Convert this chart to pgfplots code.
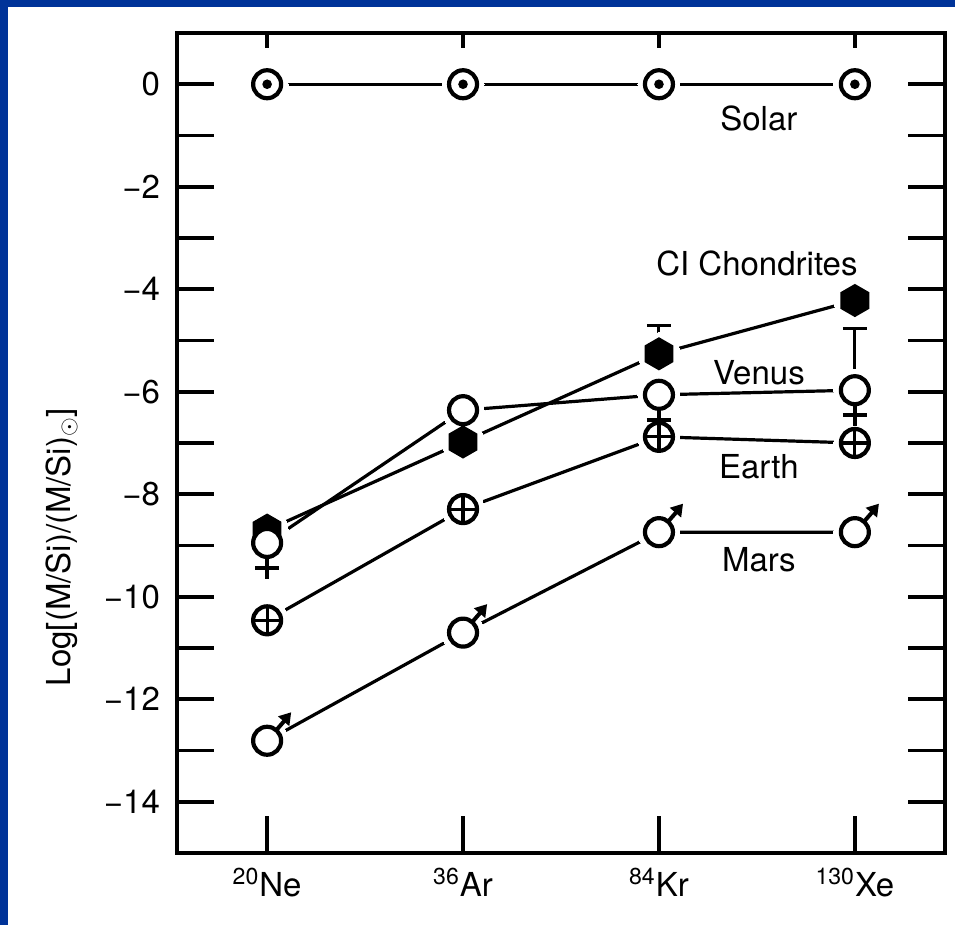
\documentclass[border=0pt]{standalone}
\usepackage{fontspec}
\setmainfont{TeX Gyre Heros}
\usepackage{pgfplots}
\pgfplotsset{compat=1.18}

\definecolor{framebg}{RGB}{0,51,153}

% --- plot marks for the planetary symbols ---
\pgfdeclareplotmark{sun}{%
  \pgfsetlinewidth{2.1pt}\pgfsetstrokecolor{black}\pgfsetfillcolor{white}%
  \pgfpathcircle{\pgfpointorigin}{7pt}\pgfusepath{fill,stroke}%
  \pgfsetfillcolor{black}%
  \pgfpathcircle{\pgfpointorigin}{2.4pt}\pgfusepath{fill}}
\pgfdeclareplotmark{earth}{%
  \pgfsetlinewidth{2.1pt}\pgfsetstrokecolor{black}\pgfsetfillcolor{white}%
  \pgfpathcircle{\pgfpointorigin}{7pt}\pgfusepath{fill,stroke}%
  \pgfsetlinewidth{1.6pt}%
  \pgfpathmoveto{\pgfpoint{-7pt}{0pt}}\pgfpathlineto{\pgfpoint{7pt}{0pt}}%
  \pgfpathmoveto{\pgfpoint{0pt}{-7pt}}\pgfpathlineto{\pgfpoint{0pt}{7pt}}%
  \pgfusepath{stroke}}
\pgfdeclareplotmark{venus}{%
  \pgfsetlinewidth{1.9pt}\pgfsetstrokecolor{black}\pgfsetfillcolor{white}%
  \pgfpathmoveto{\pgfpoint{0pt}{-7pt}}\pgfpathlineto{\pgfpoint{0pt}{-18pt}}%
  \pgfpathmoveto{\pgfpoint{-6pt}{-12.5pt}}\pgfpathlineto{\pgfpoint{6pt}{-12.5pt}}%
  \pgfusepath{stroke}%
  \pgfsetlinewidth{2.1pt}%
  \pgfpathcircle{\pgfpointorigin}{7pt}\pgfusepath{fill,stroke}}
\pgfdeclareplotmark{mars}{%
  \pgfsetlinewidth{2.1pt}\pgfsetstrokecolor{black}\pgfsetfillcolor{white}%
  \pgfpathcircle{\pgfpointorigin}{7pt}\pgfusepath{fill,stroke}%
  \pgfsetlinewidth{2pt}%
  \pgfpathmoveto{\pgfpoint{4.6pt}{5.3pt}}\pgfpathlineto{\pgfpoint{9.2pt}{10.6pt}}%
  \pgfusepath{stroke}%
  \pgfsetfillcolor{black}%
  \pgfpathmoveto{\pgfpoint{12pt}{14.2pt}}%
  \pgfpathlineto{\pgfpoint{5.4pt}{12.2pt}}%
  \pgfpathlineto{\pgfpoint{11.1pt}{7.3pt}}%
  \pgfpathclose\pgfusepath{fill}}
\pgfdeclareplotmark{hexa}{%
  \pgfsetfillcolor{black}%
  \pgfpathmoveto{\pgfpointpolar{90}{8.3pt}}%
  \pgfpathlineto{\pgfpointpolar{150}{8.3pt}}%
  \pgfpathlineto{\pgfpointpolar{210}{8.3pt}}%
  \pgfpathlineto{\pgfpointpolar{270}{8.3pt}}%
  \pgfpathlineto{\pgfpointpolar{330}{8.3pt}}%
  \pgfpathlineto{\pgfpointpolar{30}{8.3pt}}%
  \pgfpathclose\pgfusepath{fill}}

% isotope index: 0 = 20Ne, 1 = 36Ar, 2 = 84Kr, 3 = 130Xe
\pgfplotstableread{
x  solar  ci     venus  earth   mars
0  0      -8.70  -8.95  -10.46  -12.81
1  0      -6.98  -6.36  -8.29   -10.70
2  0      -5.26  -6.06  -6.88   -8.74
3  0      -4.22  -5.97  -7.00   -8.74
}\abund
% upper limits on the Venus Kr and Xe values
\pgfplotstableread{
x  y      ep
2  -6.06  1.35
3  -5.97  1.20
}\venuserr

\begin{document}
\begin{tikzpicture}
\fill[framebg] (0,0) rectangle (477.5pt,462.5pt);
\fill[white] (4pt,0) rectangle (477.5pt,459pt);

\pgfplotsset{
  commonaxis/.style={
    at={(88.5pt,36pt)}, anchor=south west,
    scale only axis, width=384pt, height=410pt,
    xmin=-0.46, xmax=3.46, ymin=-15, ymax=1,
    clip=false,
  }
}

% short top ticks at the isotope positions
\begin{axis}[commonaxis,
  axis line style={draw=none},
  xtick={0,1,2,3}, xticklabels={}, xtick pos=right,
  ytick=\empty,
  tick align=inside, major tick length=7.5pt,
  tick style={line width=1.8pt, black},
]
\end{axis}

\begin{axis}[commonaxis,
  axis line style={line width=2pt, black},
  xtick={0,1,2,3},
  xticklabels={\textsuperscript{20}Ne, \textsuperscript{36}Ar, \textsuperscript{84}Kr, \textsuperscript{130}Xe},
  xtick pos=left,
  ytick={-14,-12,...,0},
  yticklabels={−14,−12,−10,−8,−6,−4,−2,0},
  minor ytick={-13,-11,...,-1},
  ytick pos=both,
  tick align=inside,
  major tick length=18.5pt, minor tick length=18.5pt,
  tick style={line width=1.8pt, black},
  minor tick style={line width=1.8pt, black},
  tick label style={font=\fontsize{16.5}{19}\selectfont},
  yticklabel style={xshift=-5pt},
  xticklabel style={yshift=-4pt},
  ylabel={Log[(M/Si)/(M/Si)$_{\odot}$]},
  ylabel style={font=\fontsize{16.5}{19}\selectfont, at={(axis description cs:-0.15,0.5)}, anchor=center, xshift=-52pt},
]
% connecting lines
\pgfplotsinvokeforeach{solar,ci,venus,earth,mars}{
  \addplot[black, line width=1.6pt, mark=none] table[x=x, y=#1] {\abund};
}
% white gaps around every symbol
\pgfplotsinvokeforeach{solar,ci,venus,earth,mars}{
  \addplot[white, only marks, mark=*, mark size=10.5pt, mark options={draw=white, fill=white, line width=0pt}] table[x=x, y=#1] {\abund};
}
% Venus upper limits
\addplot[only marks, mark=none, black,
  error bars/.cd, y dir=plus, y explicit, error mark=|,
  error bar style={line width=1.5pt, black},
  error mark options={line width=1.5pt, black, mark size=6pt}]
  table[x=x, y=y, y error plus=ep] {\venuserr};
% symbols
\addplot[only marks, mark=hexa] table[x=x, y=ci] {\abund};
\addplot[only marks, mark=venus] table[x=x, y=venus] {\abund};
\addplot[only marks, mark=earth] table[x=x, y=earth] {\abund};
\addplot[only marks, mark=mars] table[x=x, y=mars] {\abund};
\addplot[only marks, mark=sun] table[x=x, y=solar] {\abund};

% series names
\begin{scope}[every node/.style={font=\fontsize{16.5}{19}\selectfont}]
\node at (axis cs:2.51,-0.66) {Solar};
\node at (axis cs:2.50,-3.50) {CI Chondrites};
\node at (axis cs:2.51,-5.63) {Venus};
\node at (axis cs:2.51,-7.47) {Earth};
\node at (axis cs:2.51,-9.27) {Mars};
\end{scope}
\end{axis}
\end{tikzpicture}
\end{document}
